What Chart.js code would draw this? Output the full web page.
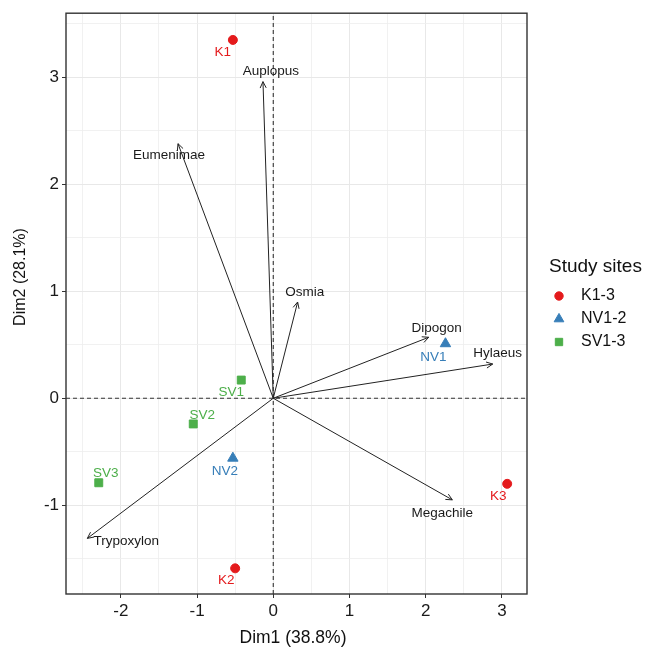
<!DOCTYPE html>
<html>
<head>
<meta charset="utf-8">
<script src="https://cdn.jsdelivr.net/npm/chart.js@4.4.1/dist/chart.umd.min.js"></script>
<style>
  html, body { margin: 0; padding: 0; background: #fff; }
  #wrap { width: 646px; height: 654px; position: relative; }
</style>
</head>
<body>
<div id="wrap"><canvas id="biplot"></canvas></div>
<script>
// site scores (individuals)
const kNames = ['K1', 'K2', 'K3'];
const kX = [-0.53, -0.50, 3.07];
const kY = [3.35, -1.59, -0.80];

const nvNames = ['NV1', 'NV2'];
const nvX = [2.26, -0.53];
const nvY = [0.51, -0.56];

const svNames = ['SV1', 'SV2', 'SV3'];
const svX = [-0.42, -1.05, -2.29];
const svY = [0.17, -0.24, -0.79];

// variable loadings (arrows)
const speciesNames = ['Auplopus', 'Eumenimae', 'Osmia', 'Dipogon', 'Hylaeus', 'Megachile', 'Trypoxylon'];
const speciesX = [-0.135, -1.25, 0.32, 2.04, 2.88, 2.35, -2.44];
const speciesY = [2.96, 2.38, 0.90, 0.57, 0.32, -0.95, -1.31];

// tick values
const xMajor = [-2, -1, 0, 1, 2, 3];
const xMinor = [-2.5, -1.5, -0.5, 0.5, 1.5, 2.5];
const yMajor = [-1, 0, 1, 2, 3];
const yMinor = [-1.5, -0.5, 0.5, 1.5, 2.5, 3.5];

const legendTitle = 'Study sites';
const groupNames = ['K1-3', 'NV1-2', 'SV1-3'];

const X_MIN = -2.72, X_MAX = 3.33;
const Y_MIN = -1.83, Y_MAX = 3.60;

const RED = '#E41A1C', BLUE = '#377EB8', GREEN = '#4DAF4A';
const FONT = "'Liberation Sans', Arial, sans-serif";

// text offsets in pixels from the mark (repelled labels)
const labelShift = {
    K1: [-10, 12], K2: [-9, 12], K3: [-9, 12],
    NV1: [-12, 14], NV2: [-8, 13],
    SV1: [-10, 12], SV2: [9, -9], SV3: [7, -9],
    Auplopus: [8, -10], Eumenimae: [-9, 12], Osmia: [7, -10],
    Dipogon: [8, -9], Hylaeus: [5, -11], Megachile: [-10, 13], Trypoxylon: [39, 3]
};

const toPoints = (xs, ys) => xs.map((x, i) => ({ x: x, y: ys[i] }));

const datasets = [];

// dashed reference lines through the origin
datasets.push({
    kind: 'ref', data: [{ x: 0, y: Y_MIN }, { x: 0, y: Y_MAX }],
    showLine: true, pointRadius: 0, borderColor: '#333', borderWidth: 1.1,
    borderDash: [4, 3], order: 10
});
datasets.push({
    kind: 'ref', data: [{ x: X_MIN, y: 0 }, { x: X_MAX, y: 0 }],
    showLine: true, pointRadius: 0, borderColor: '#333', borderWidth: 1.1,
    borderDash: [4, 3], order: 10
});

// arrows
speciesNames.forEach((name, i) => {
    datasets.push({
        kind: 'arrow', names: ['', name],
        data: [{ x: 0, y: 0 }, { x: speciesX[i], y: speciesY[i] }],
        showLine: true, pointRadius: 0, borderColor: '#222', borderWidth: 1, order: 5
    });
});

// site points
datasets.push({
    kind: 'site', names: kNames, data: toPoints(kX, kY),
    pointStyle: 'circle', pointRadius: 4.5, backgroundColor: RED, borderColor: RED, order: 1
});
datasets.push({
    kind: 'site', names: nvNames, data: toPoints(nvX, nvY),
    pointStyle: 'triangle', pointRadius: 6, backgroundColor: BLUE, borderColor: BLUE, order: 1
});
datasets.push({
    kind: 'site', names: svNames, data: toPoints(svX, svY),
    pointStyle: 'rect', pointRadius: 5.6, backgroundColor: GREEN, borderColor: GREEN, order: 1
});

const isMajor = (v, list) => list.some(m => Math.abs(m - v) < 1e-9);

function drawText(ctx, text, x, y, font, color, align) {
    ctx.save();
    ctx.font = font;
    ctx.fillStyle = color;
    ctx.textAlign = align || 'center';
    ctx.textBaseline = 'middle';
    ctx.fillText(text, x, y);
    ctx.restore();
}

const biplotExtras = {
    id: 'biplotExtras',
    afterDatasetsDraw(chart) {
        const ctx = chart.ctx;
        const area = chart.chartArea;

        chart.data.datasets.forEach((ds, di) => {
            const meta = chart.getDatasetMeta(di);
            if (ds.kind === 'arrow') {
                const p0 = meta.data[0], p1 = meta.data[1];
                const ang = Math.atan2(p1.y - p0.y, p1.x - p0.x);
                const len = 7, spread = Math.PI / 7;
                ctx.save();
                ctx.strokeStyle = ds.borderColor;
                ctx.lineWidth = 1;
                ctx.beginPath();
                ctx.moveTo(p1.x - len * Math.cos(ang - spread), p1.y - len * Math.sin(ang - spread));
                ctx.lineTo(p1.x, p1.y);
                ctx.lineTo(p1.x - len * Math.cos(ang + spread), p1.y - len * Math.sin(ang + spread));
                ctx.stroke();
                ctx.restore();
                const name = ds.names[1];
                const off = labelShift[name] || [0, 0];
                drawText(ctx, name, p1.x + off[0], p1.y + off[1], '13.5px ' + FONT, '#1a1a1a');
            } else if (ds.kind === 'site') {
                meta.data.forEach((pt, i) => {
                    const name = ds.names[i];
                    const off = labelShift[name] || [0, 0];
                    drawText(ctx, name, pt.x + off[0], pt.y + off[1], '13.5px ' + FONT, ds.backgroundColor);
                });
            }
        });

        // panel border
        ctx.save();
        ctx.strokeStyle = '#333';
        ctx.lineWidth = 1.4;
        ctx.strokeRect(area.left, area.top, area.right - area.left, area.bottom - area.top);
        ctx.restore();
    },
    afterDraw(chart) {
        const ctx = chart.ctx;
        // axis titles
        drawText(ctx, 'Dim1 (38.8%)', 293, 638, '17.5px ' + FONT, '#111');
        ctx.save();
        ctx.translate(21, 277);
        ctx.rotate(-Math.PI / 2);
        drawText(ctx, 'Dim2 (28.1%)', 0, 0, '16px ' + FONT, '#111');
        ctx.restore();

        // legend
        drawText(ctx, legendTitle, 549, 267, '19px ' + FONT, '#111', 'left');
        const siteSets = chart.data.datasets.filter(d => d.kind === 'site');
        const rowsY = [296, 319, 342];
        siteSets.forEach((ds, i) => {
            const y = rowsY[i];
            const r = ds.pointStyle === 'circle' ? 4.2 : (ds.pointStyle === 'triangle' ? 5.6 : 5.2);
            ctx.save();
            ctx.fillStyle = ds.backgroundColor;
            ctx.strokeStyle = ds.borderColor;
            Chart.helpers.drawPoint(ctx, { pointStyle: ds.pointStyle, radius: r, borderWidth: 1 }, 559, y);
            ctx.restore();
            drawText(ctx, groupNames[i], 581, y, '16px ' + FONT, '#111', 'left');
        });
    }
};

function tickSetter(major, minor) {
    return scale => {
        scale.ticks = major.concat(minor).sort((a, b) => a - b).map(v => ({ value: v }));
    };
}

function axisOptions(min, max, major, minor, fit) {
    return {
        type: 'linear',
        min: min,
        max: max,
        afterBuildTicks: tickSetter(major, minor),
        afterFit: fit,
        border: { display: false },
        grid: {
            color: c => isMajor(c.tick.value, major) ? '#e8e8e8' : '#eeeeee',
            lineWidth: c => isMajor(c.tick.value, major) ? 1 : 0.8,
            tickColor: c => isMajor(c.tick.value, major) ? '#333' : 'rgba(0,0,0,0)',
            tickLength: 4
        },
        ticks: {
            autoSkip: false,
            maxRotation: 0,
            padding: 3,
            color: '#1a1a1a',
            font: { size: 17, family: FONT },
            callback: v => isMajor(v, major) ? String(v) : ''
        }
    };
}

new Chart(document.getElementById('biplot'), {
    type: 'scatter',
    data: { datasets: datasets },
    options: {
        responsive: true,
        maintainAspectRatio: false,
        animation: false,
        layout: { padding: { left: 0, top: 12, right: 119, bottom: 0 } },
        plugins: {
            legend: { display: false },
            tooltip: { enabled: false }
        },
        scales: {
            x: axisOptions(X_MIN, X_MAX, xMajor, xMinor, s => { s.height = 60; }),
            y: axisOptions(Y_MIN, Y_MAX, yMajor, yMinor, s => { s.width = 66; })
        }
    },
    plugins: [biplotExtras]
});
</script>
</body>
</html>
